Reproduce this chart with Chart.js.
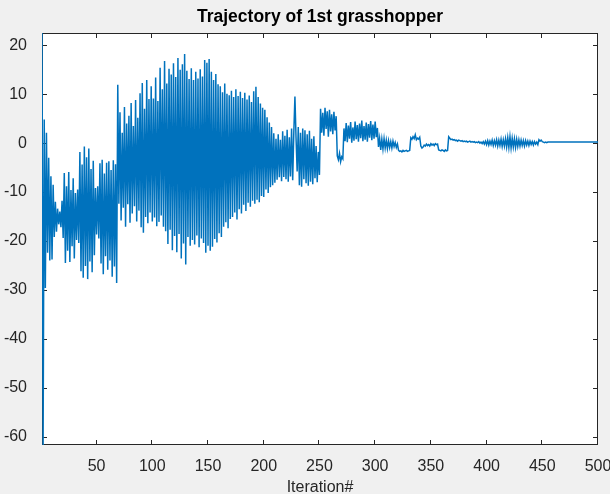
<!DOCTYPE html>
<html>
<head>
<meta charset="utf-8">
<script src="https://cdn.jsdelivr.net/npm/chart.js@4.4.1/dist/chart.umd.min.js"></script>
<style>
  html, body { margin: 0; padding: 0; background: #f0f0f0; }
</style>
</head>
<body>
<canvas id="trajectoryChart" width="610" height="494"></canvas>
<script>
// position of the 1st grasshopper at each iteration
const trajectory = [
  22.5, -61.7, 4.8, -29.6, 2.1, -22.4, -3.0, -24.0, -6.8, -23.8,
  -8.5, -19.2, -12.0, -18.1, -13.4, -16.6, -14.0, -17.2, -11.8, -19.4,
  -6.1, -24.5, -8.8, -22.0, -5.9, -24.3, -9.6, -21.1, -7.2, -23.6,
  -10.2, -19.8, -9.5, -20.4, -1.8, -26.2, -4.4, -27.5, -0.7, -25.1,
  -2.9, -27.8, -1.1, -24.2, -5.3, -26.4, -3.6, -22.9, -9.2, -18.7,
  -8.8, -19.5, -4.1, -24.6, -3.4, -26.8, -6.2, -23.1, -4.0, -25.9,
  -3.7, -24.0, -5.5, -27.3, -3.5, -25.2, -4.3, -28.6, 11.9, -12.4,
  6.3, -15.8, 2.1, -13.2, 7.4, -17.1, 4.0, -12.5, 5.6, -16.3,
  8.2, -14.4, 3.5, -12.9, 8.8, -16.0, 5.2, -13.8, 10.2, -17.2,
  12.3, -18.3, 7.0, -15.1, 12.9, -16.4, 9.0, -14.2, 11.6, -16.0,
  9.1, -15.2, 13.4, -17.0, 8.6, -16.1, 15.4, -14.8, 11.0, -17.1,
  16.8, -18.0, 12.2, -20.6, 15.2, -17.7, 14.0, -21.9, 16.3, -19.0,
  13.5, -22.3, 17.4, -18.6, 15.0, -23.6, 16.1, -20.5, 18.2, -24.8,
  14.8, -19.2, 13.1, -21.0, 15.3, -19.8, 12.9, -20.7, 14.6, -18.9,
  13.2, -21.3, 15.1, -19.5, 13.6, -20.4, 17.0, -22.4, 16.4, -21.0,
  17.2, -22.0, 14.6, -21.2, 12.9, -19.6, 14.1, -20.3, 12.0, -18.4,
  11.6, -19.2, 10.4, -17.1, 12.2, -16.2, 10.1, -17.4, 9.8, -15.5,
  10.7, -15.1, 9.4, -14.2, 11.0, -15.6, 9.6, -13.5, 10.5, -14.4,
  9.2, -12.6, 10.3, -13.9, 8.9, -12.2, 9.7, -13.0, 8.4, -11.8,
  10.6, -12.4, 11.5, -11.6, 9.4, -12.1, 8.1, -10.8, 7.2, -11.0,
  6.8, -9.5, 5.3, -10.2, 4.2, -9.0, 3.3, -8.6, 2.0, -8.1,
  0.9, -7.5, 1.8, -7.0, 0.7, -7.8, 2.4, -6.9, 1.5, -7.4,
  2.7, -7.9, 1.2, -6.8, 3.0, -7.6, 2.2, 9.5, 1.0, -5.8,
  3.3, -8.6, 2.1, -8.9, 3.0, -7.4, 2.6, -8.2, 1.8, -8.7,
  2.5, -7.9, 0.9, -8.4, 1.4, -7.2, -0.6, -8.0, -1.8, -6.5,
  7.0, 2.1, 6.2, 1.5, 7.2, 2.9, 6.5, 1.3, 6.8, 2.4,
  5.9, 1.8, 6.4, 2.6, 5.5, -2.6, -3.4, -2.1, -3.8, -2.8,
  -3.2, 3.0, 0.4, 4.1, 0.2, 3.6, 0.9, 4.3, 0.1, 3.2,
  0.5, 4.4, 0.8, 3.7, 0.3, 4.0, 1.0, 4.6, 0.4, 3.5,
  0.7, 4.2, 0.3, 3.9, 1.1, 4.5, 0.6, 3.8, 0.9, 4.4,
  1.2, 3.1, -0.8, 1.0, -1.4, 0.8, -1.2, 0.9, -1.0, 0.6,
  -1.1, 0.5, -0.9, 0.3, -1.0, 0.4, -0.7, 0.1, -0.9, -0.2,
  -1.5, -1.7, -1.6, -1.8, -1.5, -1.7, -1.6, -1.5, -1.7, -1.6,
  -1.5, 1.1, 0.8, 1.3, 0.9, 1.7, 0.7, 1.0, 0.8, 1.2,
  -0.6, -1.0, -0.8, -0.4, -0.6, -0.2, -0.5, -0.3, -0.6, -0.1,
  -0.4, -0.2, -0.5, -0.1, -0.3, -0.2, -1.4, -1.5, -1.6, -1.4,
  -1.5, -1.7, -1.4, -1.6, -1.5, 1.3, 1.0, 0.7, 0.8, 0.6,
  0.7, 0.5, 0.6, 0.4, 0.6, 0.5, 0.4, 0.5, 0.3, 0.4,
  0.3, 0.4, 0.2, 0.3, 0.4, 0.2, 0.3, 0.2, 0.3, 0.1,
  0.2, 0.1, 0.3, 0.0, 0.2, -0.1, 0.3, -0.2, 0.4, -0.3,
  0.5, -0.4, 0.4, -0.3, 0.6, -0.5, 0.5, -0.4, 0.7, -0.6,
  0.6, -0.5, 0.8, -0.7, 0.7, -0.6, 0.9, -0.8, 1.1, -0.9,
  1.3, -1.0, 1.0, -0.8, 0.9, -0.9, 0.8, -0.7, 0.7, -0.6,
  0.6, -0.5, 0.5, -0.6, 0.5, -0.4, 0.4, -0.5, 0.4, -0.3,
  0.3, -0.4, 0.3, -0.2, 0.2, -0.3, 0.7, 0.4, 0.6, 0.3,
  0.2, 0.1, 0.2, 0.1, 0.2, 0.2, 0.2, 0.2, 0.2, 0.2,
  0.2, 0.2, 0.2, 0.2, 0.2, 0.2, 0.2, 0.2, 0.2, 0.2,
  0.2, 0.2, 0.2, 0.2, 0.2, 0.2, 0.2, 0.2, 0.2, 0.2,
  0.2, 0.2, 0.2, 0.2, 0.2, 0.2, 0.2, 0.2, 0.2, 0.2,
  0.2, 0.2, 0.2, 0.2, 0.2, 0.2, 0.2, 0.2, 0.2, 0.2
];
const iterations = trajectory.map((_, i) => i + 1);

const xTicks = [50, 100, 150, 200, 250, 300, 350, 400, 450, 500];
const yTicks = [-60, -50, -40, -30, -20, -10, 0, 10, 20];

const FONT = "'Liberation Sans', Arial, Helvetica, sans-serif";
const AXIS_COLOR = '#262626';

// grey figure background + white axes
const figureBackground = {
  id: 'figureBackground',
  beforeDraw(chart) {
    const { ctx, chartArea: a } = chart;
    ctx.save();
    ctx.fillStyle = '#f0f0f0';
    ctx.fillRect(0, 0, chart.width, chart.height);
    ctx.fillStyle = '#ffffff';
    ctx.fillRect(a.left, a.top, a.right - a.left, a.bottom - a.top);
    ctx.restore();
  }
};

// matlab style box with inward ticks on all four sides
const axesBox = {
  id: 'axesBox',
  beforeDatasetsDraw(chart) {
    const { ctx, chartArea: a, scales } = chart;
    const len = 5;
    ctx.save();
    ctx.strokeStyle = AXIS_COLOR;
    ctx.lineWidth = 1;
    ctx.strokeRect(a.left + 0.5, a.top + 0.5, a.right - a.left - 1, a.bottom - a.top - 1);
    ctx.beginPath();
    xTicks.forEach(v => {
      const px = Math.round(scales.x.getPixelForValue(v)) - 0.5;
      ctx.moveTo(px, a.bottom); ctx.lineTo(px, a.bottom - len);
      ctx.moveTo(px, a.top); ctx.lineTo(px, a.top + len);
    });
    yTicks.forEach(v => {
      const py = Math.round(scales.y.getPixelForValue(v)) + 0.5;
      ctx.moveTo(a.left, py); ctx.lineTo(a.left + len, py);
      ctx.moveTo(a.right, py); ctx.lineTo(a.right - len, py);
    });
    ctx.stroke();
    ctx.restore();
  }
};

new Chart(document.getElementById('trajectoryChart'), {
  type: 'line',
  data: {
    labels: iterations,
    datasets: [{
      data: trajectory.map((v, i) => ({ x: iterations[i], y: v })),
      borderColor: '#0072bd',
      borderWidth: 1.5,
      pointRadius: 0,
      tension: 0,
      fill: false
    }]
  },
  options: {
    responsive: false,
    animation: false,
    layout: { padding: { left: 0, right: 12, top: 0, bottom: 0 } },
    plugins: {
      legend: { display: false },
      tooltip: { enabled: false },
      title: {
        display: true,
        text: 'Trajectory of 1st grasshopper',
        fullSize: false,
        color: '#000000',
        font: { family: FONT, size: 17.5, weight: 'bold' },
        padding: { top: 7, bottom: 5 }
      }
    },
    scales: {
      x: {
        type: 'linear',
        min: 1,
        max: 500,
        afterBuildTicks: s => { s.ticks = xTicks.map(v => ({ value: v })); },
        afterFit: s => { s.height = 49; s.paddingLeft = 0; s.paddingRight = 0; },
        grid: { display: false },
        border: { display: false },
        ticks: { color: AXIS_COLOR, font: { family: FONT, size: 16 }, padding: 4, maxRotation: 0, autoSkip: false },
        title: { display: true, text: 'Iteration#', color: AXIS_COLOR, font: { family: FONT, size: 16 }, padding: { top: 0, bottom: -3 } }
      },
      y: {
        min: -61.7,
        max: 22.5,
        afterBuildTicks: s => { s.ticks = yTicks.map(v => ({ value: v })); },
        afterFit: s => { s.width = 42; s.paddingTop = 0; s.paddingBottom = 0; },
        grid: { display: false },
        border: { display: false },
        ticks: { color: AXIS_COLOR, font: { family: FONT, size: 16 }, padding: 7 }
      }
    }
  },
  plugins: [figureBackground, axesBox]
});
</script>
</body>
</html>
